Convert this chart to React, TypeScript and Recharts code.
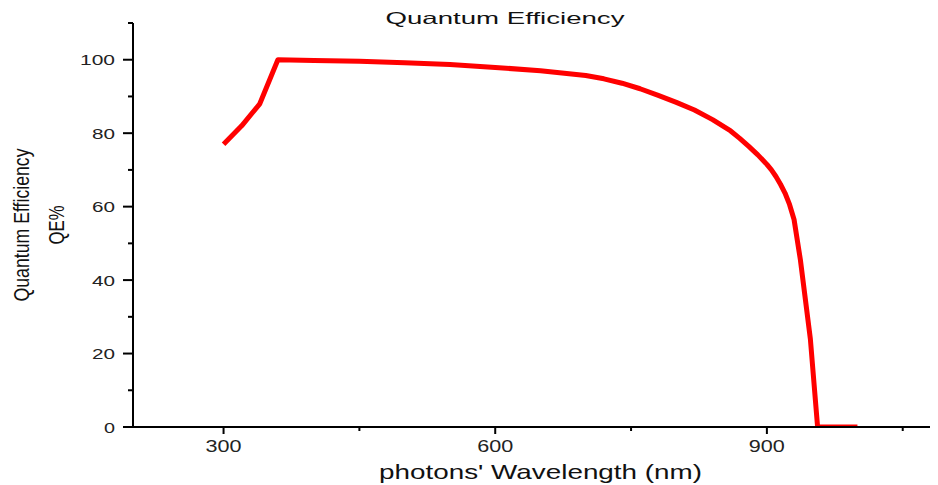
import React from 'react';
import { LineChart, Line, XAxis, YAxis, Customized } from 'recharts';

// wavelength (nm) and quantum efficiency (%)
const wavelengths = [300, 320, 340, 360, 400, 450, 500, 550, 600, 650, 700, 720, 740, 760, 780, 800, 820, 840, 860, 870, 880, 890, 900, 905, 910, 915, 920, 925, 930, 937, 948, 956, 1000];
const qeValues = [77, 82, 88, 100, 99.8, 99.6, 99.2, 98.7, 97.9, 97.0, 95.7, 94.8, 93.6, 92.1, 90.3, 88.4, 86.3, 83.7, 80.6, 78.6, 76.4, 74.1, 71.5, 70.0, 68.2, 66.1, 63.7, 60.6, 56.5, 45.5, 24, 0, 0];

const xMajorTicks = [300, 600, 900];
const xMinorTicks = [450, 750, 1050];
const yMajorTicks = [0, 20, 40, 60, 80, 100];
const yMinorTicks = [10, 30, 50, 70, 90, 110];

const data = wavelengths.map((w, i) => ({ wavelength: w, qe: qeValues[i] }));

const FONT = '"Liberation Sans", Arial, sans-serif';

function XTick(props: any) {
  const { x, y, payload } = props;
  const major = xMajorTicks.includes(payload.value);
  const label = String(payload.value);
  return (
    <g>
      <line x1={x} x2={x} y1={y} y2={y + (major ? 7 : 4)} stroke="#000" strokeWidth={2} />
      {major && (
        <text x={x} y={y + 25} textAnchor="middle" fontSize={16.5} fontFamily={FONT} fill="#222"
          textLength={label.length * 12} lengthAdjust="spacingAndGlyphs">
          {label}
        </text>
      )}
    </g>
  );
}

function YTick(props: any) {
  const { x, y, payload } = props;
  const major = yMajorTicks.includes(payload.value);
  const label = String(payload.value);
  return (
    <g>
      <line x1={x - (major ? 10 : 5)} x2={x} y1={y} y2={y} stroke="#000" strokeWidth={2} />
      {major && (
        <text x={x - 18} y={y + 5.5} textAnchor="end" fontSize={15} fontFamily={FONT} fill="#222"
          textLength={label.length * 12 - 1} lengthAdjust="spacingAndGlyphs">
          {label}
        </text>
      )}
    </g>
  );
}

function XLabel(props: any) {
  const { viewBox } = props;
  const cx = viewBox.x + viewBox.width / 2;
  return (
    <text x={cx} y={viewBox.y + 52} textAnchor="middle" fontSize={21} fontFamily={FONT} fill="#111"
      textLength={323} lengthAdjust="spacingAndGlyphs">
      photons' Wavelength (nm)
    </text>
  );
}

function YLabel(props: any) {
  const { viewBox } = props;
  const cy = viewBox.y + viewBox.height / 2;
  return (
    <g fontFamily={FONT} fill="#111" fontSize={17.5}>
      <text transform={`translate(21, ${cy}) scale(1.3, 1) rotate(-90)`} textAnchor="middle"
        textLength={153} lengthAdjust="spacingAndGlyphs">
        Quantum Efficiency
      </text>
      <text transform={`translate(56, ${cy}) scale(1.3, 1) rotate(-90)`} textAnchor="middle"
        textLength={39} lengthAdjust="spacingAndGlyphs">
        QE%
      </text>
    </g>
  );
}

function Title() {
  return (
    <text x={497} y={16} textAnchor="middle" fontSize={16.5} fontFamily={FONT} fill="#111"
      textLength={239} lengthAdjust="spacingAndGlyphs">
      Quantum Efficiency
    </text>
  );
}

export default function App() {
  return (
    <div style={{ width: 930, height: 477, overflow: 'hidden', background: '#fff' }}>
      <LineChart width={950} height={477} data={data} margin={{ top: 15, right: 10, bottom: 0, left: 0 }}>
        <XAxis
          dataKey="wavelength"
          type="number"
          domain={[200, 1100]}
          allowDataOverflow
          ticks={[...xMajorTicks, ...xMinorTicks].sort((a, b) => a - b)}
          interval={0}
          height={58}
          tickSize={0}
          tickMargin={0}
          tickLine={false}
          tick={<XTick />}
          axisLine={{ stroke: '#000', strokeWidth: 2 }}
          label={<XLabel />}
        />
        <YAxis
          type="number"
          domain={[0, 110]}
          allowDataOverflow
          ticks={[...yMajorTicks, ...yMinorTicks].sort((a, b) => a - b)}
          interval={0}
          width={125}
          tickSize={0}
          tickMargin={0}
          tickLine={false}
          tick={<YTick />}
          axisLine={{ stroke: '#000', strokeWidth: 2 }}
          label={<YLabel />}
        />
        <Line
          type="linear"
          dataKey="qe"
          stroke="#ff0000"
          strokeWidth={5}
          strokeLinejoin="round"
          dot={false}
          isAnimationActive={false}
        />
        <Customized component={Title} />
      </LineChart>
    </div>
  );
}
